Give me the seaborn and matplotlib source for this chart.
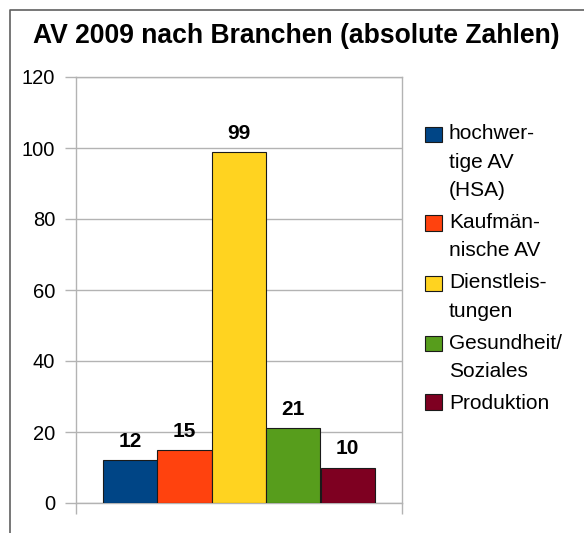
import matplotlib
matplotlib.use("Agg")
import matplotlib.pyplot as plt
from matplotlib.patches import Patch, Rectangle
from matplotlib.lines import Line2D
from matplotlib.legend_handler import HandlerPatch
import seaborn as sns

# data
branchen = ["hochwer-\ntige AV\n(HSA)", "Kaufmän-\nnische AV", "Dienstleis-\ntungen",
            "Gesundheit/\nSoziales", "Produktion"]
anzahl = [12, 15, 99, 21, 10]
farben = ["#004586", "#ff420e", "#ffd320", "#579d1c", "#7e0021"]
y_ticks = [0, 20, 40, 60, 80, 100, 120]

sns.set_theme(style="white")
plt.rcParams["font.family"] = ["Liberation Sans", "DejaVu Sans"]
plt.rcParams["text.color"] = "black"
plt.rcParams["ytick.labelcolor"] = "black"

W, H = 584, 533
LINE_DY = 28 * 72 / 100  # legend line step in points

fig = plt.figure(figsize=(W / 100, H / 100), dpi=100)
ax = fig.add_axes([76 / W, 30 / H, 326 / W, 426 / H])

grau = "#b3b3b3"
sns.barplot(x=branchen, y=anzahl, hue=branchen, palette=farben, width=1,
            dodge=False, legend=False, saturation=1, edgecolor="#1a1a1a",
            linewidth=0.8, ax=ax, zorder=3)

for c in ax.containers:
    ax.bar_label(c, fontsize=15, fontweight="bold", padding=6.5, color="black")

ax.set_xlim(-1, 5)
ax.set_ylim(0, 120)
ax.set_yticks(y_ticks)
ax.set_xticks([-1, 5])
ax.set_xticklabels([])
ax.set_xlabel("")
ax.yaxis.grid(True, color=grau, linewidth=1)
ax.set_axisbelow(True)
ax.tick_params(axis="y", direction="out", length=8, width=1, color=grau,
               pad=7, labelsize=14.5, labelcolor="black", left=True)
ax.tick_params(axis="x", direction="out", length=8, width=1, color=grau, bottom=True)
for s in ax.spines.values():
    s.set_visible(True)
    s.set_color(grau)
    s.set_linewidth(1)


# legend square next to the first line of a multi-line label
def top_square(legend, orig_handle, xdescent, ydescent, width, height, fontsize):
    n = orig_handle.get_label().count("\n")
    return Rectangle((-xdescent, -ydescent + n * LINE_DY / 2), width, height)


handles = [Patch(facecolor=f, edgecolor="#1a1a1a", linewidth=0.8, label=b)
           for f, b in zip(farben, branchen)]
leg = fig.legend(handles, branchen, loc="upper left",
                 bbox_to_anchor=(417 / W, 1 - 116 / H), frameon=False,
                 fontsize=15, handlelength=0.78, handleheight=0.75,
                 handletextpad=0.35, labelspacing=0.63, borderaxespad=0,
                 handler_map={Patch: HandlerPatch(patch_func=top_square)})
for t in leg.get_texts():
    t.set_linespacing(1.62)

fig.text(296.5 / W, 1 - 43 / H, "AV 2009 nach Branchen (absolute Zahlen)",
         ha="center", va="baseline", fontsize=19.1, fontweight="bold")

# outer frame (top and left edge)
fig.add_artist(Line2D([10 / W, 10 / W, 1], [0, 1 - 10 / H, 1 - 10 / H],
                      transform=fig.transFigure, color="#606060", linewidth=1.2))

fig.savefig("out.png", dpi=100)
